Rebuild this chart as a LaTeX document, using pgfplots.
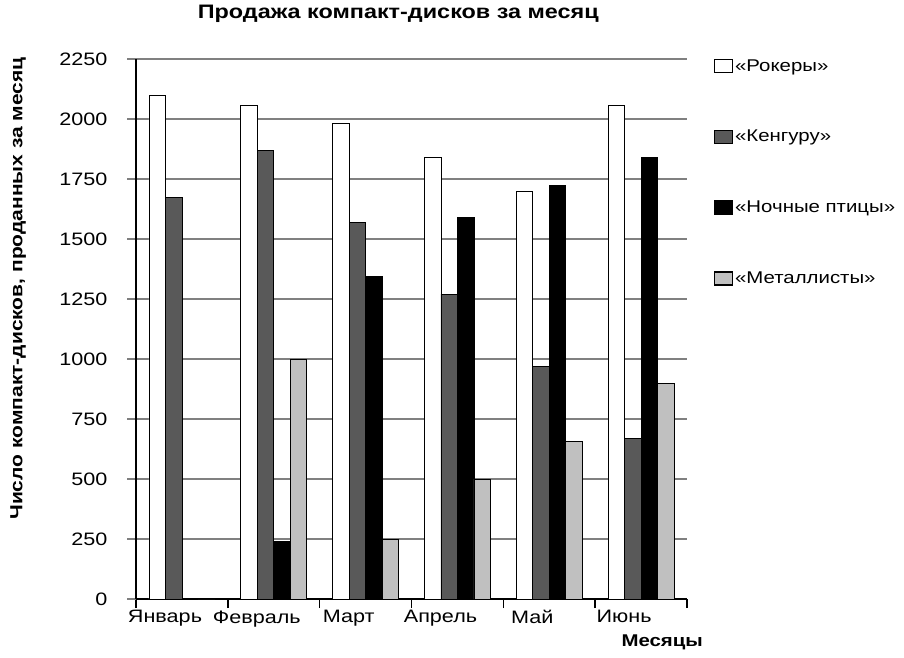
\documentclass[border=0pt]{standalone}
\usepackage{fontspec}
\setmainfont[FakeStretch=1.2]{Liberation Sans}
\usepackage{pgfplots}
\pgfplotsset{compat=1.18}
\definecolor{cdark}{HTML}{595959}
\definecolor{clight}{HTML}{C0C0C0}
\definecolor{cgrid}{HTML}{808080}
\begin{document}
\begin{tikzpicture}[x=1pt,y=1pt]
\useasboundingbox (0,0) rectangle (904,657);
\begin{axis}[
  at={(136pt,58pt)}, anchor=south west,
  scale only axis, width=551pt, height=540pt,
  ybar=0pt, bar width=16.5pt,
  xmin=-0.5, xmax=5.5, ymin=0, ymax=2250,
  xtick={-0.5,0.5,1.5,2.5,3.5,4.5,5.5},
  xticklabels={Январь,Февраль,Март,Апрель,Май,Июнь,},
  ytick={0,250,...,2250},
  axis x line*=bottom, axis y line*=left,
  axis line style={-, black, line width=1.6pt},
  tick align=outside, major tick length=9pt,
  xtick style={black, line width=1.4pt},
  ytick style={cgrid, line width=1.3pt},
  ymajorgrids, grid style={cgrid, line width=1.3pt},
  /pgf/number format/assume math mode=true,
  /pgf/number format/1000 sep={},
  ticklabel style={font=\fontsize{18}{21}\selectfont},
  xticklabel style={anchor=north, xshift=29pt, yshift=1pt},
  yticklabel style={xshift=-16pt},
  title={Продажа компакт-дисков за месяц},
  title style={at={(rel axis cs:0.476,1.072)}, anchor=center, font=\fontsize{19.5}{22}\selectfont\bfseries},
  ylabel={Число компакт-дисков, проданных за месяц},
  ylabel style={at={(rel axis cs:-0.214,0.575)}, anchor=center, font=\fontsize{17.5}{20}\selectfont\bfseries},
  xlabel={Месяцы},
  xlabel style={at={(rel axis cs:0.955,-0.081)}, anchor=center, font=\fontsize{17}{20}\selectfont\bfseries},
  legend style={at={(rel axis cs:1.048,1.003)}, anchor=north west, draw=none, fill=none,
    font=\fontsize{17}{20}\selectfont, row sep=53.5pt, inner sep=0pt},
  legend cell align=left,
  legend image code/.code={\draw[#1, line width=1.5pt] (-4pt,-6.5pt) rectangle (14pt,6.5pt);},
  every axis plot/.append style={draw=black, line width=0.8pt},
]
\addplot[fill=white] coordinates {(0,2100) (1,2055) (2,1980) (3,1840) (4,1700) (5,2055)};
\addplot[fill=cdark] coordinates {(0,1675) (1,1870) (2,1570) (3,1270) (4,970) (5,670)};
\addplot[fill=black] coordinates {(0,0) (1,240) (2,1345) (3,1590) (4,1725) (5,1840)};
\addplot[fill=clight] coordinates {(0,0) (1,1000) (2,250) (3,500) (4,655) (5,900)};
\legend{«Рокеры»,«Кенгуру»,«Ночные птицы»,«Металлисты»}
\end{axis}
\end{tikzpicture}
\end{document}
